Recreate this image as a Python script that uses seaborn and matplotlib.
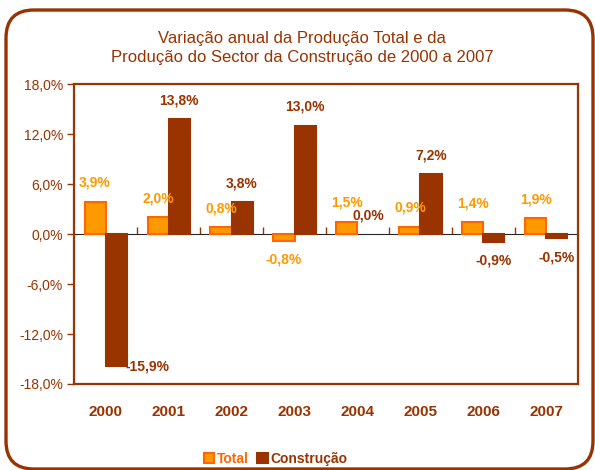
import numpy as np
import pandas as pd
import matplotlib.pyplot as plt
import seaborn as sns
from matplotlib.patches import FancyBboxPatch, Patch

# Data
anos = ["2000", "2001", "2002", "2003", "2004", "2005", "2006", "2007"]
total = [3.9, 2.0, 0.8, -0.8, 1.5, 0.9, 1.4, 1.9]
construcao = [-15.9, 13.8, 3.8, 13.0, 0.0, 7.2, -0.9, -0.5]
series = ["Total", "Construção"]
yticks = [-18, -12, -6, 0, 6, 12, 18]

BROWN = "#993300"
ORANGE = "#FF9900"
ORANGE_EDGE = "#FF6600"

sns.set_style("white")
plt.rcParams["font.family"] = ["Liberation Sans", "DejaVu Sans"]

df = pd.DataFrame({
    "Ano": anos * 2,
    "Série": [series[0]] * len(anos) + [series[1]] * len(anos),
    "Variação": total + construcao,
})

fig = plt.figure(figsize=(5.95, 4.7), dpi=100)
ax = fig.add_axes([0.1244, 0.183, 0.847, 0.638])

sns.barplot(data=df, x="Ano", y="Variação", hue="Série", order=anos,
            hue_order=series, palette=[ORANGE, BROWN], width=0.667,
            saturation=1, legend=False, ax=ax, errorbar=None)

edge_cols = [ORANGE_EDGE, BROWN]
for cont, ec, vals in zip(ax.containers, edge_cols, [total, construcao]):
    for bar, v in zip(cont, vals):
        bar.set_edgecolor(ec)
        bar.set_linewidth(1.5 if v != 0 else 0)

ax.set_ylim(-18, 18)
ax.set_yticks(yticks)
ax.set_yticklabels([f"{v:.1f}%".replace(".", ",") for v in yticks],
                   color=BROWN, fontsize=10)
ax.tick_params(axis="y", direction="out", length=5, width=1, color=BROWN,
               left=True, pad=3)
ax.set_xlabel("")
ax.set_ylabel("")
ax.tick_params(axis="x", length=0, pad=15, labelsize=11, labelcolor=BROWN)
for lbl in ax.get_xticklabels():
    lbl.set_fontweight("bold")

for sp in ax.spines.values():
    sp.set_color(BROWN)
    sp.set_linewidth(1.6)

# zero line with tick marks between categories
secax = ax.secondary_xaxis(0.5)
secax.set_xticks(np.arange(0.5, len(anos) - 0.5, 1))
secax.set_xticklabels([])
secax.tick_params(direction="out", length=5, width=1, color=BROWN)
secax.spines["bottom"].set_color(BROWN)
secax.spines["bottom"].set_linewidth(1.2)

# data labels
ymin, ymax = ax.get_ylim()
off_data = 19 * (ymax - ymin) / (ax.get_position().height * 470)
for cont, vals, col in zip(ax.containers, [total, construcao], [ORANGE, BROWN]):
    for bar, v in zip(cont, vals):
        x = bar.get_x() + bar.get_width() / 2
        txt = f"{v:.1f}%".replace(".", ",")
        sign = 1 if v >= 0 else -1
        if abs(v) + off_data > ymax:
            ax.annotate(txt, (x, v), xytext=(23, 0), textcoords="offset points",
                        ha="center", va="center", color=col, fontsize=10,
                        fontweight="bold")
        else:
            ax.annotate(txt, (x, v), xytext=(0, sign * 13.7),
                        textcoords="offset points", ha="center", va="center",
                        color=col, fontsize=10, fontweight="bold")

fig.text(0.508, 0.898,
         "Variação anual da Produção Total e da\nProdução do Sector da Construção de 2000 a 2007",
         ha="center", va="center", fontsize=12, color=BROWN, linespacing=1.4)

handles = [Patch(facecolor=ORANGE, edgecolor=ORANGE_EDGE, linewidth=1.5),
           Patch(facecolor=BROWN, edgecolor=BROWN, linewidth=1.5)]
leg = fig.legend(handles, series, loc="center", bbox_to_anchor=(0.463, 0.023),
                 ncol=2, frameon=False, handlelength=0.75, handleheight=0.75,
                 handletextpad=0.2, columnspacing=0.6,
                 prop={"weight": "bold", "size": 10})
for t, c in zip(leg.get_texts(), [ORANGE_EDGE, BROWN]):
    t.set_color(c)

# rounded outer frame
frame = FancyBboxPatch((0.06, 0.01), 5.87, 4.59,
                       boxstyle="round,pad=0,rounding_size=0.28",
                       transform=fig.dpi_scale_trans, facecolor="none",
                       edgecolor=BROWN, linewidth=2.4, clip_on=False)
fig.patches.append(frame)

fig.savefig("out.png", dpi=100)
